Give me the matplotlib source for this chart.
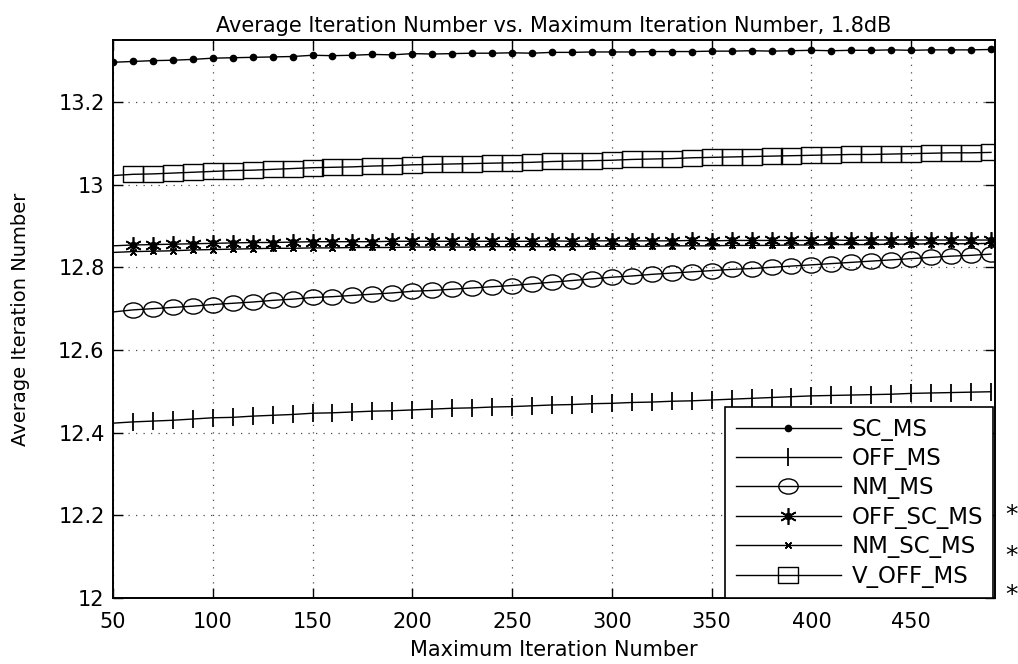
import numpy as np
import matplotlib
matplotlib.use("Agg")
import matplotlib.pyplot as plt
from matplotlib.path import Path
from matplotlib.legend_handler import HandlerTuple

# ---------------- data ----------------
max_iter = list(range(50, 500, 10))  # 50 .. 490

sc_ms = [13.296, 13.298, 13.300, 13.301, 13.303, 13.306, 13.307, 13.308, 13.309, 13.310,
         13.313, 13.312, 13.313, 13.315, 13.314, 13.317, 13.316, 13.317, 13.318, 13.318,
         13.319, 13.318, 13.320, 13.320, 13.321, 13.321, 13.321, 13.322, 13.322, 13.322,
         13.323, 13.323, 13.324, 13.323, 13.324, 13.325, 13.324, 13.325, 13.325, 13.326,
         13.325, 13.326, 13.326, 13.326, 13.327]

off_ms = [12.423, 12.426, 12.428, 12.430, 12.433, 12.436, 12.437, 12.440, 12.442, 12.444,
          12.447, 12.448, 12.450, 12.452, 12.453, 12.455, 12.457, 12.459, 12.460, 12.462,
          12.463, 12.465, 12.467, 12.468, 12.470, 12.471, 12.473, 12.474, 12.476, 12.477,
          12.479, 12.481, 12.483, 12.485, 12.487, 12.489, 12.490, 12.491, 12.492, 12.493,
          12.495, 12.496, 12.497, 12.498, 12.499]

nm_ms = [12.692, 12.697, 12.700, 12.703, 12.706, 12.710, 12.713, 12.716, 12.720, 12.723,
         12.727, 12.729, 12.732, 12.735, 12.738, 12.742, 12.744, 12.747, 12.750, 12.753,
         12.756, 12.760, 12.764, 12.768, 12.772, 12.776, 12.779, 12.783, 12.786, 12.789,
         12.792, 12.795, 12.797, 12.800, 12.803, 12.806, 12.809, 12.812, 12.815, 12.818,
         12.821, 12.824, 12.827, 12.829, 12.832]

off_sc_ms = [12.852, 12.854, 12.855, 12.856, 12.857, 12.858, 12.859, 12.860, 12.860, 12.861,
             12.862, 12.862, 12.862, 12.862, 12.863, 12.863, 12.863, 12.863, 12.863, 12.863,
             12.863, 12.863, 12.864, 12.863, 12.864, 12.864, 12.864, 12.864, 12.864, 12.865,
             12.864, 12.865, 12.865, 12.865, 12.865, 12.865, 12.866, 12.865, 12.866, 12.866,
             12.866, 12.866, 12.866, 12.866, 12.866]

nm_sc_ms = [12.836, 12.838, 12.839, 12.840, 12.842, 12.843, 12.844, 12.845, 12.846, 12.846,
            12.847, 12.847, 12.848, 12.848, 12.848, 12.849, 12.849, 12.849, 12.849, 12.850,
            12.850, 12.850, 12.850, 12.850, 12.851, 12.851, 12.851, 12.851, 12.852, 12.852,
            12.852, 12.853, 12.853, 12.853, 12.854, 12.854, 12.855, 12.855, 12.855, 12.856,
            12.856, 12.857, 12.857, 12.857, 12.858]

v_off_ms = [13.022, 13.025, 13.026, 13.028, 13.030, 13.032, 13.034, 13.035, 13.037, 13.039,
            13.041, 13.042, 13.043, 13.045, 13.046, 13.048, 13.049, 13.050, 13.051, 13.052,
            13.053, 13.054, 13.056, 13.057, 13.058, 13.059, 13.061, 13.062, 13.063, 13.065,
            13.066, 13.067, 13.068, 13.069, 13.070, 13.071, 13.072, 13.073, 13.073, 13.074,
            13.075, 13.076, 13.077, 13.077, 13.078]

labels = ["SC_MS", "OFF_MS", "NM_MS", "OFF_SC_MS", "NM_SC_MS", "V_OFF_MS"]
x_ticks = [50, 100, 150, 200, 250, 300, 350, 400, 450]
y_ticks = [12, 12.2, 12.4, 12.6, 12.8, 13, 13.2]
y_tick_labels = ["12", "12.2", "12.4", "12.6", "12.8", "13", "13.2"]

# ---------------- markers (scan is slightly stretched horizontally) ----------------
circ = Path.unit_circle()
ellipse = Path(circ.vertices * np.array([1.0, 0.78]), circ.codes)
rect = Path([(-1, -0.75), (1, -0.75), (1, 0.75), (-1, 0.75), (-1, -0.75)],
            [Path.MOVETO, Path.LINETO, Path.LINETO, Path.LINETO, Path.CLOSEPOLY])
asterisk = (6, 2, 0)

plt.rcParams['font.family'] = ['DejaVu Sans']
fig = plt.figure(figsize=(10.18, 6.64), dpi=100)
ax = fig.add_axes([0.111, 0.0994, 0.8664, 0.8404])

lw = 1.0
skip_first = slice(1, None)
h1, = ax.plot(max_iter, sc_ms, '-', color='black', lw=lw, marker='o', ms=4.5,
              mfc='black', mec='black', label=labels[0])
h2, = ax.plot(max_iter, off_ms, '-', color='black', lw=lw, marker='|', ms=13,
              mew=1.3, markevery=skip_first, label=labels[1])
h3, = ax.plot(max_iter, nm_ms, '-', color='black', lw=lw, marker=ellipse, ms=14,
              mfc='none', mec='black', mew=1.0, markevery=skip_first, label=labels[2])
h4a, = ax.plot(max_iter, off_sc_ms, '-', color='black', lw=lw, marker=asterisk, ms=12,
               mew=1.2, markevery=skip_first)
h4b, = ax.plot(max_iter, off_sc_ms, ls='none', color='black', marker='o', ms=4.5,
               markevery=skip_first)
h5, = ax.plot(max_iter, nm_sc_ms, '-', color='black', lw=lw, marker=(4, 2, 45), ms=6,
              mew=1.0, markevery=skip_first, label=labels[4])
h6, = ax.plot(max_iter, v_off_ms, '-', color='black', lw=lw, marker=rect, ms=15,
              mfc='none', mec='black', mew=1.0, markevery=skip_first, label=labels[5])

ax.set_xlim(50, 492)
ax.set_ylim(12, 13.35)
ax.set_xticks(x_ticks)
ax.set_xticklabels([str(t) for t in x_ticks])
ax.set_yticks(y_ticks)
ax.set_yticklabels(y_tick_labels)
ax.tick_params(direction='in', length=7, width=1, labelsize=15, top=True, right=True,
               pad=6, colors='black')
ax.tick_params(axis='x', pad=10)
ax.grid(True, color='black', linestyle=(0, (1, 5)), lw=0.9, alpha=0.7)
for s in ax.spines.values():
    s.set_linewidth(1.4)
    s.set_color('black')

ax.set_title("Average Iteration Number vs. Maximum Iteration Number, 1.8dB",
             fontsize=15, pad=6)
ax.set_xlabel("Maximum Iteration Number", fontsize=15, labelpad=6)
ax.set_ylabel("Average Iteration Number", fontsize=14, labelpad=20)

leg = ax.legend([h1, h2, h3, (h4a, h4b), h5, h6], labels,
                handler_map={tuple: HandlerTuple(ndivide=1, pad=0)},
                loc='lower right', bbox_to_anchor=(0.998, 0.0), borderaxespad=0,
                fontsize=16.5, handlelength=4.6, handletextpad=0.45, labelspacing=0.28,
                fancybox=False, framealpha=1, edgecolor='black', borderpad=0.45)
leg.get_frame().set_linewidth(1.2)

for yy in [0.224, 0.163, 0.104]:
    fig.text(0.994, yy, "*", fontsize=18, ha='center', va='center')

fig.savefig("out.png", dpi=100)
